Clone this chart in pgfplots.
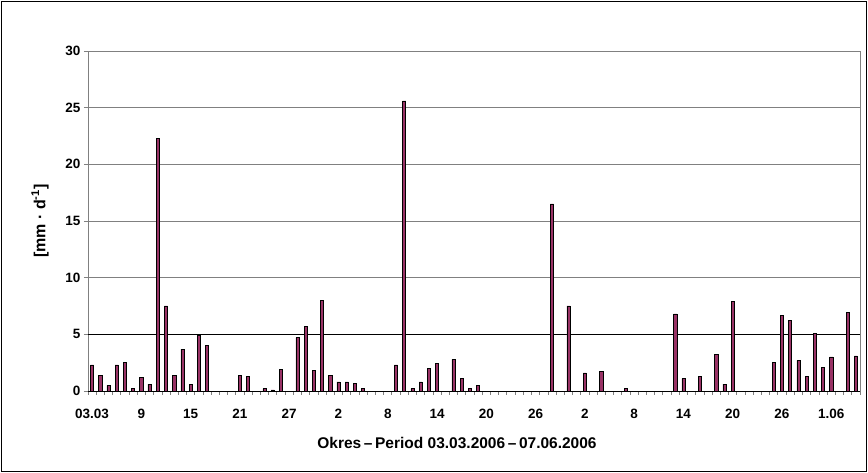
\documentclass[border=0pt]{standalone}
\usepackage{pgfplots}
\pgfplotsset{compat=1.18}
\usepackage{fontspec}
\setmainfont{Liberation Sans}
\definecolor{plum}{RGB}{153,51,102}
\definecolor{gridgray}{RGB}{128,128,128}

\pgfplotstableread{
day val
0 2.3
1 1.4
2 0.5
3 2.3
4 2.5
5 0.2
6 1.2
7 0.6
8 22.3
9 7.5
10 1.4
11 3.7
12 0.6
13 4.9
14 4.0
18 1.4
19 1.3
21 0.2
22 0.1
23 1.9
25 4.7
26 5.7
27 1.8
28 8.0
29 1.4
30 0.8
31 0.8
32 0.7
33 0.2
37 2.3
38 25.6
39 0.2
40 0.8
41 2.0
42 2.4
44 2.8
45 1.1
46 0.2
47 0.5
56 16.5
58 7.5
60 1.6
62 1.7
65 0.2
71 6.8
72 1.1
74 1.3
76 3.2
77 0.6
78 7.9
83 2.5
84 6.7
85 6.2
86 2.7
87 1.3
88 5.1
89 2.1
90 3.0
92 6.9
93 3.1
}\rain

\begin{document}
\begin{tikzpicture}
\useasboundingbox (-88pt,-82pt) rectangle (780pt,391pt);
\draw[black, line width=0.8pt] (-86.8pt,-80.8pt) rectangle (778.8pt,389.8pt);
\begin{axis}[
  at={(0pt,0pt)}, anchor=south west,
  scale only axis, width=772pt, height=340pt,
  xmin=-0.5, xmax=93.5, ymin=0, ymax=30,
  ytick={0,5,...,30},
  xtick={0,6,...,90},
  xticklabels={03.03,9,15,21,27,2,8,14,20,26,2,8,14,20,26,1.06},
  minor xtick={-0.5,0.5,...,93.5},
  tick pos=left,
  tick align=outside,
  major tick length=4pt,
  minor tick length=4pt,
  major x tick style={draw=none},
  minor x tick style={gridgray, line width=0.8pt},
  major y tick style={gridgray, line width=0.8pt},
  axis line style={gridgray, line width=0.8pt},
  ymajorgrids,
  grid style={gridgray, line width=0.8pt},
  extra y ticks={0,5},
  extra y tick labels={},
  extra y tick style={grid style={black, line width=0.8pt}, major y tick style={gridgray}},
  /pgf/number format/assume math mode=true,
  tick label style={font=\fontsize{13.5}{15}\selectfont\bfseries},
  xticklabel style={yshift=-11pt},
  xlabel={Okres\,–\,Period 03.03.2006\,–\,07.06.2006},
  xlabel style={font=\fontsize{15.5}{17}\selectfont\bfseries, at={(axis description cs:0.478,-0.153)}, anchor=center},
  ylabel={[mm · d\textsuperscript{-1}]},
  ylabel style={font=\fontsize{16}{18}\selectfont\bfseries, at={(axis description cs:-0.0622,0.5)}, anchor=center},
  clip=false,
]
\addplot[ybar, bar width=3.2pt, fill=plum, draw=black, line width=0.6pt] table[x=day, y=val] {\rain};
\end{axis}
\end{tikzpicture}
\end{document}
